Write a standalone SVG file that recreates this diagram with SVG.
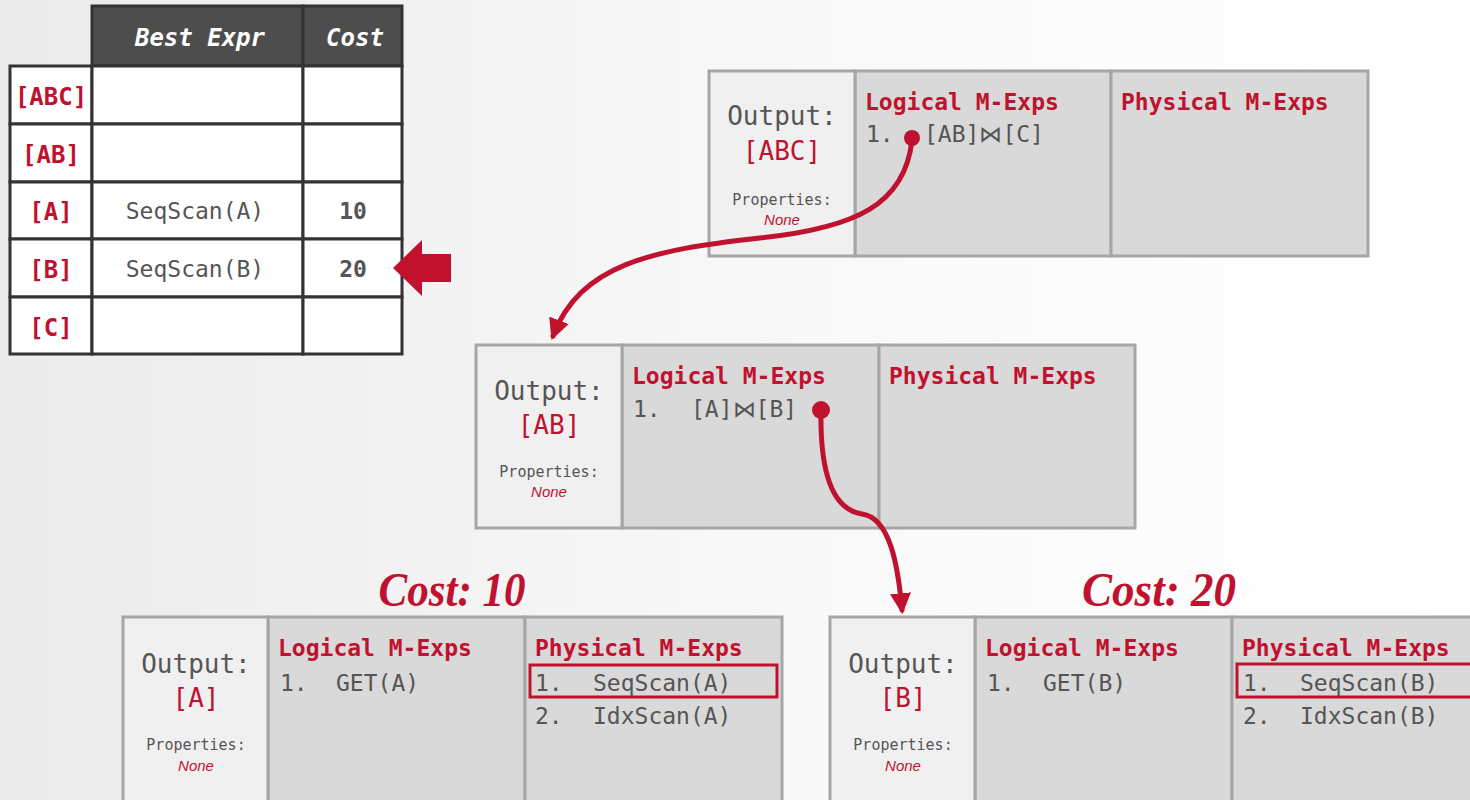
<svg xmlns="http://www.w3.org/2000/svg" width="1470" height="800" viewBox="0 0 1470 800">
<defs>
<linearGradient id="bg" x1="0" y1="0" x2="1" y2="0">
<stop offset="0" stop-color="#ebebeb"/>
<stop offset="0.5" stop-color="#f8f8f8"/>
<stop offset="1" stop-color="#ffffff"/>
</linearGradient>
<marker id="ah" viewBox="0 0 10 10" refX="8" refY="5" markerWidth="4.2" markerHeight="4.4" orient="auto" markerUnits="strokeWidth">
<path d="M0,0 L10,5 L0,10 Z" fill="#c0122f"/>
</marker>
<style>
.mono{font-family:"DejaVu Sans Mono","Liberation Mono",monospace;}
.hd{font-size:23px;font-weight:bold;fill:#c0122f;}
.it{font-size:23px;fill:#555;}
.out{font-size:26px;fill:#555;text-anchor:middle;}
.outr{font-size:26px;fill:#c0122f;text-anchor:middle;}
.prop{font-size:15px;fill:#555;text-anchor:middle;}
.none{font-family:"Liberation Sans",sans-serif;font-size:15px;font-style:italic;fill:#c0122f;text-anchor:middle;}
.oc{fill:#f0f0f0;stroke:#a6a6a6;stroke-width:3;}
.mc{fill:#d9d9d9;stroke:#a6a6a6;stroke-width:3;}
.cell{fill:#ffffff;stroke:#333;stroke-width:3;}
.hcell{fill:#4d4d4d;stroke:#333;stroke-width:3;}
.tl{font-size:24px;font-weight:bold;fill:#c0122f;text-anchor:middle;}
.tv{font-size:23px;fill:#555;text-anchor:middle;}
.th{font-size:24px;font-weight:bold;font-style:italic;fill:#fff;text-anchor:middle;}
.cost{font-family:"Liberation Serif",serif;font-size:48px;font-weight:bold;font-style:italic;fill:#c0122f;text-anchor:middle;}
.sel{fill:none;stroke:#c0122f;stroke-width:3;}
.conn{fill:none;stroke:#c0122f;stroke-width:5;stroke-linecap:round;}
</style>
</defs>
<rect x="0" y="0" width="1470" height="800" fill="url(#bg)"/>

<g id="table" class="mono">
<rect class="hcell" x="92" y="6" width="211" height="60"/>
<rect class="hcell" x="303" y="6" width="99" height="60"/>
<text class="th" x="200" y="46">Best Expr</text>
<text class="th" x="355" y="46">Cost</text>
<rect class="cell" x="10" y="66" width="82" height="58"/>
<rect class="cell" x="92" y="66" width="211" height="58"/>
<rect class="cell" x="303" y="66" width="99" height="58"/>
<rect class="cell" x="10" y="124" width="82" height="58"/>
<rect class="cell" x="92" y="124" width="211" height="58"/>
<rect class="cell" x="303" y="124" width="99" height="58"/>
<rect class="cell" x="10" y="182" width="82" height="57"/>
<rect class="cell" x="92" y="182" width="211" height="57"/>
<rect class="cell" x="303" y="182" width="99" height="57"/>
<rect class="cell" x="10" y="239" width="82" height="58"/>
<rect class="cell" x="92" y="239" width="211" height="58"/>
<rect class="cell" x="303" y="239" width="99" height="58"/>
<rect class="cell" x="10" y="297" width="82" height="57"/>
<rect class="cell" x="92" y="297" width="211" height="57"/>
<rect class="cell" x="303" y="297" width="99" height="57"/>
<text class="tl" x="51" y="105">[ABC]</text>
<text class="tl" x="51" y="163">[AB]</text>
<text class="tl" x="51" y="220">[A]</text>
<text class="tl" x="51" y="278">[B]</text>
<text class="tl" x="51" y="336">[C]</text>
<text class="tv" x="195" y="219">SeqScan(A)</text>
<text class="tv" x="195" y="277">SeqScan(B)</text>
<text class="tv" x="353" y="219" style="font-weight:bold">10</text>
<text class="tv" x="353" y="277" style="font-weight:bold">20</text>
</g>

<g id="pointer">
<polygon points="393,268 422,240 422,254 451,254 451,282 422,282 422,296" fill="#c0122f"/>
</g>

<g id="group-abc" class="mono">
<rect class="mc" x="855" y="71" width="256" height="185"/>
<rect class="mc" x="1111" y="71" width="257" height="185"/>
<rect class="oc" x="709" y="71" width="146" height="185"/>
<text class="out" x="782" y="125">Output:</text>
<text class="outr" x="782" y="160">[ABC]</text>
<text class="prop" x="782" y="205">Properties:</text>
<text class="none" x="782" y="225">None</text>
<text class="hd" x="865" y="110">Logical M-Exps</text>
<text class="it" x="866" y="142">1.</text>
<text class="it" x="924" y="142">[AB]⋈[C]</text>
<text class="hd" x="1121" y="110">Physical M-Exps</text>
</g>

<g id="group-ab" class="mono">
<rect class="mc" x="622" y="345" width="257" height="183"/>
<rect class="mc" x="879" y="345" width="256" height="183"/>
<rect class="oc" x="476" y="345" width="146" height="183"/>
<text class="out" x="549" y="400">Output:</text>
<text class="outr" x="549" y="434">[AB]</text>
<text class="prop" x="549" y="477">Properties:</text>
<text class="none" x="549" y="497">None</text>
<text class="hd" x="632" y="384">Logical M-Exps</text>
<text class="it" x="633" y="417">1.</text>
<text class="it" x="691" y="417">[A]⋈[B]</text>
<text class="hd" x="889" y="384">Physical M-Exps</text>
</g>

<g id="group-a" class="mono">
<text class="cost" x="452" y="606" textLength="147" lengthAdjust="spacingAndGlyphs">Cost: 10</text>
<rect class="mc" x="268" y="617" width="257" height="190"/>
<rect class="mc" x="525" y="617" width="257" height="190"/>
<rect class="oc" x="123" y="617" width="145" height="190"/>
<text class="out" x="196" y="673">Output:</text>
<text class="outr" x="196" y="707">[A]</text>
<text class="prop" x="196" y="750">Properties:</text>
<text class="none" x="196" y="771">None</text>
<text class="hd" x="278" y="656">Logical M-Exps</text>
<text class="it" x="280" y="691">1.</text>
<text class="it" x="336" y="691">GET(A)</text>
<text class="hd" x="535" y="656">Physical M-Exps</text>
<rect class="sel" x="530" y="665" width="247" height="32"/>
<text class="it" x="535" y="691">1.</text>
<text class="it" x="593" y="691">SeqScan(A)</text>
<text class="it" x="535" y="724">2.</text>
<text class="it" x="593" y="724">IdxScan(A)</text>
</g>

<g id="group-b" class="mono">
<text class="cost" x="1159" y="606" textLength="154" lengthAdjust="spacingAndGlyphs">Cost: 20</text>
<rect class="mc" x="975" y="617" width="257" height="190"/>
<rect class="mc" x="1232" y="617" width="257" height="190"/>
<rect class="oc" x="830" y="617" width="145" height="190"/>
<text class="out" x="903" y="673">Output:</text>
<text class="outr" x="903" y="707">[B]</text>
<text class="prop" x="903" y="750">Properties:</text>
<text class="none" x="903" y="771">None</text>
<text class="hd" x="985" y="656">Logical M-Exps</text>
<text class="it" x="987" y="691">1.</text>
<text class="it" x="1043" y="691">GET(B)</text>
<text class="hd" x="1242" y="656">Physical M-Exps</text>
<rect class="sel" x="1237" y="664" width="250" height="33"/>
<text class="it" x="1243" y="691">1.</text>
<text class="it" x="1300" y="691">SeqScan(B)</text>
<text class="it" x="1243" y="724">2.</text>
<text class="it" x="1300" y="724">IdxScan(B)</text>
</g>

<g id="connectors">
<circle cx="912" cy="138" r="8" fill="#c0122f"/>
<path class="conn" d="M912,140 C905,205 855,228 760,238 C650,250 580,265 553,336" marker-end="url(#ah)"/>
<circle cx="821" cy="410" r="9" fill="#c0122f"/>
<path class="conn" d="M821,412 C820,480 835,510 862,514 C890,518 898,565 902,610" marker-end="url(#ah)"/>
</g>
</svg>
